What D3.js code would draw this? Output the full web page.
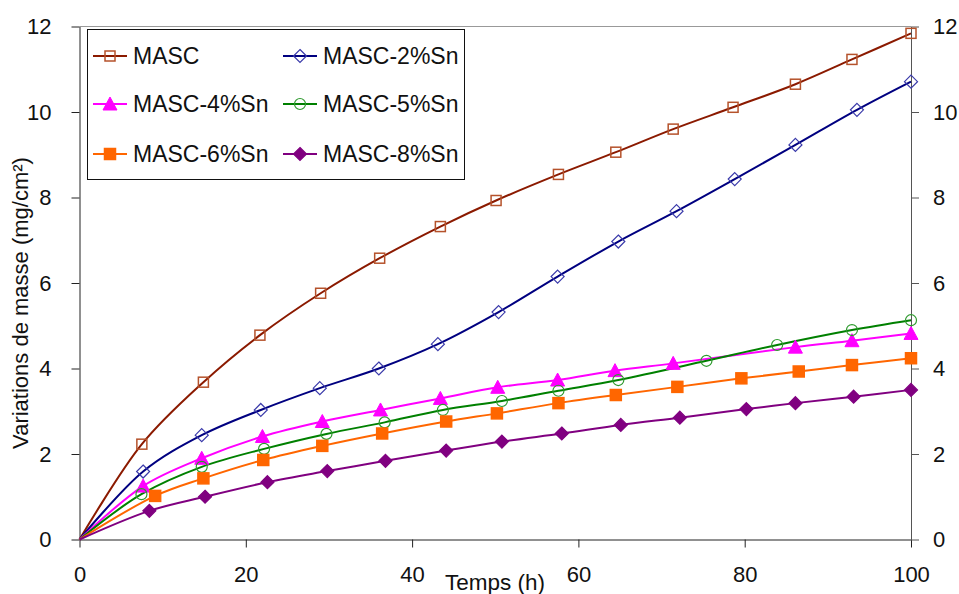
<!DOCTYPE html>
<html><head><meta charset="utf-8">
<script src="https://cdn.jsdelivr.net/npm/d3@7"></script>
<style>body{margin:0;background:#fff}svg{display:block;font-family:"Liberation Sans",Arial,sans-serif}</style>
</head><body><svg id="c" width="959" height="594"></svg>
<script>
const seriesNames = ["MASC","MASC-2%Sn","MASC-4%Sn","MASC-5%Sn","MASC-6%Sn","MASC-8%Sn"];
const mascT = [0,7.5,14.9,21.7,29.0,36.1,43.4,50.1,57.6,64.5,71.4,78.6,86.1,92.9,100];
const mascV = [0,2.23,3.68,4.78,5.76,6.58,7.32,7.93,8.54,9.06,9.60,10.11,10.65,11.23,11.84];
const sn2T = [0,7.65,14.7,21.8,28.9,36.0,43.1,50.4,57.5,64.8,71.8,78.8,86.1,93.5,100];
const sn2V = [0,1.59,2.44,3.03,3.54,4.00,4.57,5.32,6.15,6.97,7.68,8.43,9.23,10.05,10.71];
const sn4T = [0,7.65,14.7,22.0,29.2,36.2,43.4,50.3,57.5,64.4,71.4,86.1,92.9,100];
const sn4V = [0,1.25,1.90,2.41,2.76,3.03,3.30,3.56,3.73,3.95,4.12,4.50,4.65,4.82];
const sn5T = [0,7.45,14.7,22.2,29.7,36.7,43.7,50.8,57.6,64.8,75.4,83.9,92.9,100];
const sn5V = [0,1.06,1.70,2.12,2.47,2.74,3.03,3.24,3.48,3.73,4.18,4.55,4.90,5.13];
const sn6T = [0,9.1,14.9,22.1,29.2,36.4,44.1,50.2,57.6,64.5,71.9,79.6,86.5,92.9,100];
const sn6V = [0,1.02,1.43,1.86,2.19,2.48,2.76,2.95,3.19,3.38,3.57,3.77,3.93,4.08,4.24];
const sn8T = [0,8.4,15.1,22.6,29.8,36.8,44.1,50.8,58.0,65.1,72.2,80.2,86.1,93.1,100];
const sn8V = [0,0.67,1.00,1.34,1.60,1.84,2.08,2.29,2.48,2.68,2.85,3.05,3.19,3.34,3.50];
const xTicks = [0,20,40,60,80,100];
const yTicks = [0,2,4,6,8,10,12];
const xLabel = "Temps (h)";
const yLabel = "Variations de masse (mg/cm²)";

const styles = [
  {line:"#8B1A00", stroke:"#B5522B", fill:"none", shape:"square"},
  {line:"#000080", stroke:"#3A3AAA", fill:"none", shape:"diamond"},
  {line:"#FF00FF", stroke:"#FF00FF", fill:"#FF00FF", shape:"triangle"},
  {line:"#008000", stroke:"#2E9A2E", fill:"none", shape:"circle"},
  {line:"#FF6600", stroke:"#FF6600", fill:"#FF6600", shape:"square"},
  {line:"#800080", stroke:"#800080", fill:"#800080", shape:"diamond"}
];
const data = [[mascT,mascV],[sn2T,sn2V],[sn4T,sn4V],[sn5T,sn5V],[sn6T,sn6V],[sn8T,sn8V]]
  .map(([t,v],i)=>({name:seriesNames[i], pts:t.map((x,j)=>({x,y:v[j]})), st:styles[i]}));

const svg = d3.select("#c");
const x = d3.scaleLinear().domain([0,100]).range([79.5,911]);
const y = d3.scaleLinear().domain([0,12]).range([539.5,26.5]);

// top border
svg.append("line").attr("x1",79.5).attr("x2",911).attr("y1",26.5).attr("y2",26.5).attr("stroke","#999");

const fs = "22px";
const gx = svg.append("g").attr("transform","translate(0,539.5)")
  .call(d3.axisBottom(x).tickValues(xTicks).tickSize(8).tickSizeOuter(0).tickPadding(22));
const gl = svg.append("g").attr("transform","translate(79.5,0)")
  .call(d3.axisLeft(y).tickValues(yTicks).tickSize(8).tickSizeOuter(0).tickPadding(20));
const gr = svg.append("g").attr("transform","translate(911,0)")
  .call(d3.axisRight(y).tickValues(yTicks).tickSize(8).tickSizeOuter(0).tickPadding(14));
[gx,gl,gr].forEach(g=>{
  g.selectAll("text").attr("font-size",fs).attr("fill","#111").attr("font-family","Liberation Sans, Arial, sans-serif");
  g.selectAll("line,path").attr("stroke","#222");
});
gr.selectAll("line,path").attr("stroke","#555");
gx.selectAll("text").attr("dy","0.55em");

svg.append("text").attr("x",495).attr("y",590).attr("text-anchor","middle").attr("font-size","22.5px").attr("fill","#111").text(xLabel);
svg.append("text").attr("transform","translate(28,303) rotate(-90)").attr("text-anchor","middle").attr("font-size","22px").attr("fill","#111").text(yLabel);

const line = d3.line().x(d=>x(d.x)).y(d=>y(d.y)).curve(d3.curveCatmullRom.alpha(0.5));

function marker(g, shape, cx, cy, st){
  if(shape==="square"){
    const s = st.fill==="none"?10:11;
    g.append("rect").attr("x",cx-s/2).attr("y",cy-s/2).attr("width",s).attr("height",s)
      .attr("fill",st.fill).attr("stroke",st.stroke).attr("stroke-width",1.5);
  } else if(shape==="diamond"){
    const r = 6.5;
    g.append("path").attr("d",`M${cx},${cy-r}L${cx+r},${cy}L${cx},${cy+r}L${cx-r},${cy}Z`)
      .attr("fill",st.fill).attr("stroke",st.stroke).attr("stroke-width",1.2);
  } else if(shape==="triangle"){
    const h = 12, w = 14;
    g.append("path").attr("d",`M${cx},${cy-h/2-1}L${cx+w/2},${cy+h/2}L${cx-w/2},${cy+h/2}Z`)
      .attr("fill",st.fill).attr("stroke",st.stroke).attr("stroke-width",1);
  } else {
    g.append("circle").attr("cx",cx).attr("cy",cy).attr("r",5.5)
      .attr("fill","none").attr("stroke",st.stroke).attr("stroke-width",1.2);
  }
}

data.forEach(s=>{
  svg.append("path").datum(s.pts).attr("d",line).attr("fill","none").attr("stroke",s.st.line).attr("stroke-width",2);
});
data.forEach(s=>{
  const g = svg.append("g");
  s.pts.slice(1).forEach(p=>marker(g,s.st.shape,x(p.x),y(p.y),s.st));
});

// legend
const lg = svg.append("g");
lg.append("rect").attr("x",87.5).attr("y",29.5).attr("width",377).attr("height",150).attr("fill","#fff").attr("stroke","#111");
const colX = [93,283], rowY = [56,104,154];
data.forEach((s,i)=>{
  const cx0 = colX[i%2], cy0 = rowY[Math.floor(i/2)];
  lg.append("line").attr("x1",cx0).attr("x2",cx0+34).attr("y1",cy0).attr("y2",cy0).attr("stroke",s.st.line).attr("stroke-width",2);
  marker(lg,s.st.shape,cx0+17,cy0,s.st);
  lg.append("text").attr("x",cx0+40).attr("y",cy0+8).attr("font-size","23px").attr("fill","#111").text(s.name);
});
</script></body></html>
